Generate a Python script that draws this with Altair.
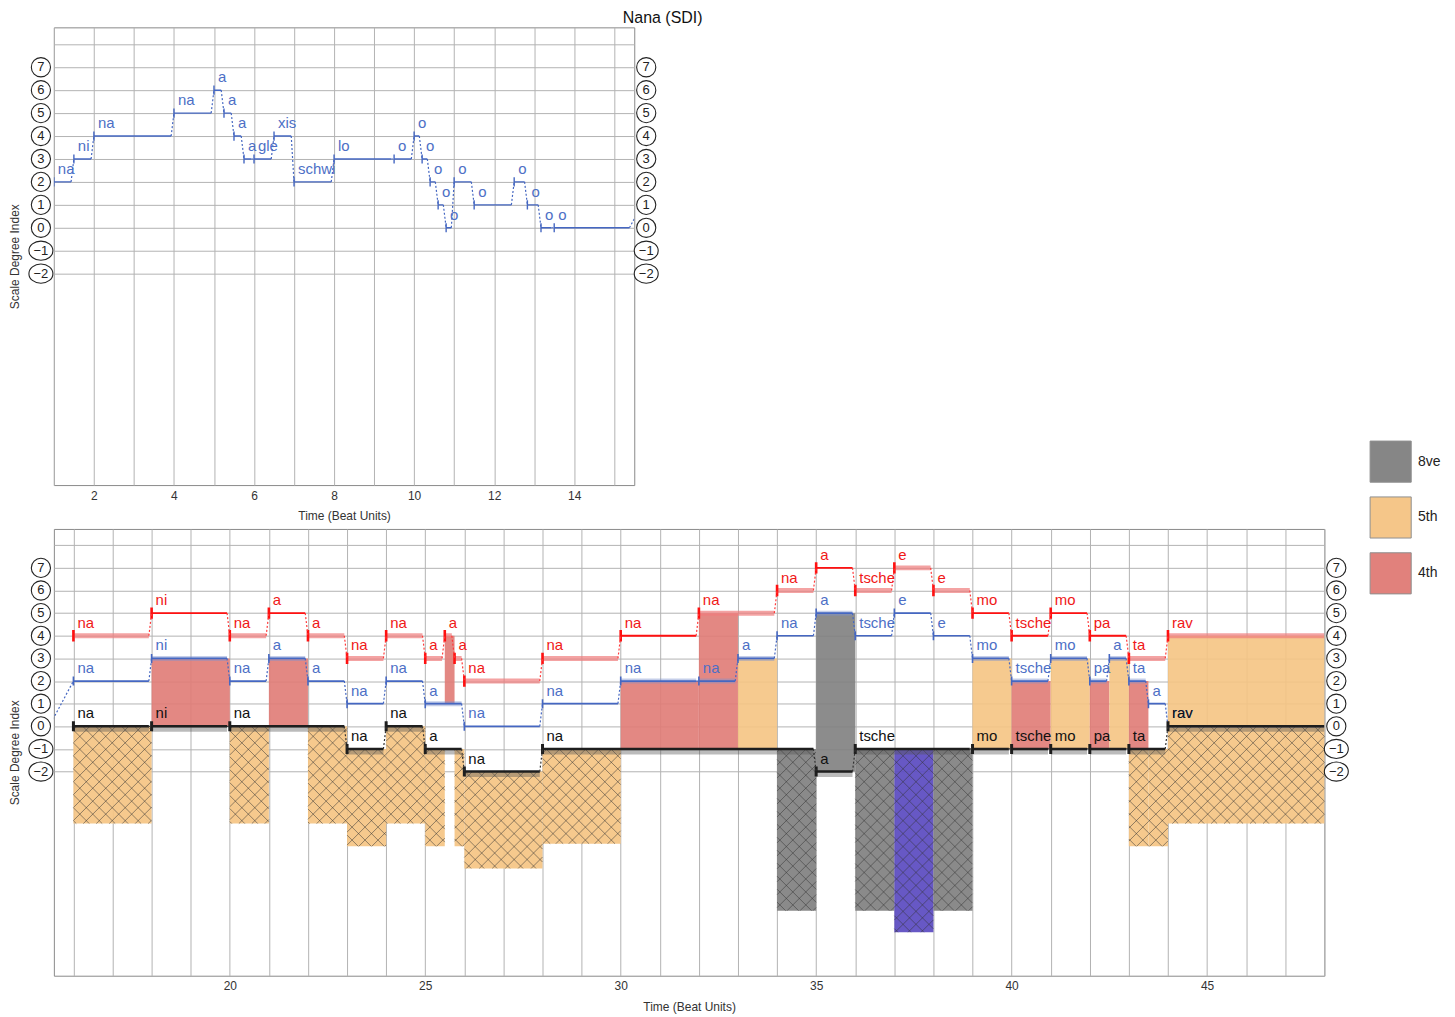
import altair as alt
import pandas as pd
import numpy as np

FONT = "Liberation Sans"

# ---------------- data ----------------
# Melody voice (blue): segment start (beats), scale degree, syllable, shaded edge flag
blue_start = [1, 1.5, 2, 4, 5, 5.25, 5.5, 5.75, 6, 6.5, 7, 8, 9.5, 10, 10.2, 10.4, 10.6, 10.8,
              11, 11.5, 12.5, 12.83, 13.17, 13.5,
              16, 18, 20, 21, 22, 23, 24, 25, 26, 28, 30, 32, 33, 34, 35, 36, 37, 38, 39, 40,
              41, 42, 42.5, 43, 43.5, 44]
blue_value = [2, 3, 4, 5, 6, 5, 4, 3, 3, 4, 2, 3, 3, 4, 3, 2, 1, 0, 2, 1, 2, 1, 0, 0,
              2, 3, 2, 3, 2, 1, 2, 1, 0, 1, 2, 2, 3, 4, 5, 4, 5, 4, 3, 2, 3, 2, 3, 2, 1, 0]
blue_text = ["na", "ni", "na", "na", "a", "a", "a", "a", "gle", "xis", "schwi", "lo", "o", "o",
             "o", "o", "o", "o", "o", "o", "o", "o", "o", "o",
             "na", "ni", "na", "a", "a", "na", "na", "a", "na", "na", "na", "na", "a", "na", "a",
             "tsche", "e", "e", "mo", "tsche", "mo", "pa", "a", "ta", "a", "rav"]
blue_soft = [0] * 24 + [0, 1, 0, 1, 0, 0, 0, 1, 0, 0, 1, 1, 1, 0, 1, 0, 0, 0, 1, 1, 1, 1, 1, 1, 0, 0]
blue_rest_end = {13.5: 15.38}

# Upper voice (red)
red_start = [16, 18, 20, 21, 22, 23, 24, 25, 25.5, 25.75, 26, 28, 30, 32, 34, 35, 36, 37, 38,
             39, 40, 41, 42, 43, 44]
red_value = [4, 5, 4, 5, 4, 3, 4, 3, 4, 3, 2, 3, 4, 5, 6, 7, 6, 7, 6, 5, 4, 5, 4, 3, 4]
red_text = ["na", "ni", "na", "a", "a", "na", "na", "a", "a", "a", "na", "na", "na", "na", "na",
            "a", "tsche", "e", "e", "mo", "tsche", "mo", "pa", "ta", "rav"]
red_soft = [1, 0, 1, 0, 1, 1, 1, 1, 1, 1, 1, 1, 0, 1, 1, 0, 1, 1, 1, 0, 0, 0, 0, 1, 1]

# Lower voice (black)
black_start = [16, 18, 20, 23, 24, 25, 26, 28, 35, 36, 39, 40, 41, 42, 43, 44]
black_value = [0, 0, 0, -1, 0, -1, -2, -1, -2, -1, -1, -1, -1, -1, -1, 0]
black_text = ["na", "ni", "na", "na", "na", "a", "na", "na", "a", "tsche", "mo", "tsche", "mo",
              "pa", "ta", "rav"]

# Solid interval bars (adjacent voices)
bar_start = [18, 21, 25.5, 30, 32, 32, 33, 35, 39, 40, 41, 42, 42.5, 43, 44]
bar_end = [20, 22, 25.75, 32, 33, 33, 34, 36, 40, 41, 42, 42.5, 43, 43.5, 48]
bar_low = [0, 0, 1, -1, -1, 2, -1, -2, -1, -1, -1, -1, -1, -1, 0]
bar_high = [3, 3, 4, 2, 2, 5, 3, 5, 3, 2, 3, 2, 3, 2, 4]
bar_interval = ["4th", "4th", "4th", "4th", "4th", "4th", "5th", "8ve", "5th", "4th", "5th",
                "4th", "5th", "4th", "5th"]

# Hatched interval bars (outer voices), hanging below the lower voice
hatch_start = [16, 20, 22, 23, 24, 25, 25.75, 26, 28, 34, 36, 37, 38, 43, 43.5, 44]
hatch_end = [18, 21, 23, 24, 25, 25.5, 26, 28, 30, 35, 37, 38, 39, 43.5, 44, 48]
hatch_top = [0, 0, 0, -1, 0, -1, -1, -2, -1, -1, -1, -1, -1, -1, -1, 0]
hatch_bottom = [-4.3, -4.3, -4.3, -5.3, -4.3, -5.3, -5.3, -6.28, -5.19, -8.15, -8.15, -9.1,
                -8.15, -5.3, -5.3, -4.3]
hatch_interval = ["5th"] * 9 + ["8ve", "8ve", "9th", "8ve", "5th", "5th", "5th"]

interval_names = ["8ve", "5th", "4th", "9th"]
interval_colors = ["#808080", "#f5c483", "#e07b75", "#5a4ac0"]

degree_values = [7, 6, 5, 4, 3, 2, 1, 0, -1, -2]
degree_labels = ["7", "6", "5", "4", "3", "2", "1", "0", "\u22121", "\u22122"]

TOP_X = [1, 15.5]
BOT_X = [15.5, 48]
TOP_Y = [-11.22, 8.74]
BOT_Y = [-11.02, 8.72]
TOP_W, TOP_H = 582, 459
BOT_W, BOT_H = 1274, 448
GAP = 0.07
FINAL_END = 48
HATCH_STEP = 13.0

BLUE = "#4567c2"
BLUE_TXT = "#4d6fc6"
RED = "#ff1010"
RED_TXT = "#f01818"
GRID = "#b3b3b3"


# ---------------- helpers ----------------
def build_voice(starts, values, texts, soft, final_end, rest_end=None):
    rest_end = rest_end or {}
    rows = []
    n = len(starts)
    for i in range(n):
        t0 = starts[i]
        if t0 in rest_end:
            t1 = rest_end[t0]
        elif i < n - 1:
            t1 = starts[i + 1] - GAP
        else:
            t1 = final_end
        rows.append(dict(t0=t0, t1=t1, v=values[i], text=texts[i], soft=soft[i],
                         nt=starts[i + 1] if i < n - 1 else None,
                         nv=values[i + 1] if i < n - 1 else None))
    return pd.DataFrame(rows)


blue_df = build_voice(blue_start, blue_value, blue_text, blue_soft, FINAL_END, blue_rest_end)
red_df = build_voice(red_start, red_value, red_text, red_soft, FINAL_END)
black_df = build_voice(black_start, black_value, black_text, [1] * len(black_start), FINAL_END)

bars_df = pd.DataFrame(dict(t0=bar_start, t1=bar_end, lo=bar_low, hi=bar_high,
                            interval=bar_interval))
hatch_df = pd.DataFrame(dict(t0=hatch_start, t1=hatch_end, lo=hatch_bottom, hi=hatch_top,
                             interval=hatch_interval))


def hatch_lines(df, xdom, ydom, w, h, step):
    sx = w / (xdom[1] - xdom[0])
    sy = h / (ydom[1] - ydom[0])
    out = []
    for _, r in df.iterrows():
        xa, xb = (r.t0 - xdom[0]) * sx, (r.t1 - xdom[0]) * sx
        ya, yb = (ydom[1] - r.hi) * sy, (ydom[1] - r.lo) * sy
        segs = []
        for k in range(int(np.floor((xa + ya) / step)), int(np.ceil((xb + yb) / step)) + 1):
            c = k * step
            xs, xe = max(xa, c - yb), min(xb, c - ya)
            if xe > xs:
                segs.append((xs, c - xs, xe, c - xe))
        for k in range(int(np.floor((xa - yb) / step)), int(np.ceil((xb - ya) / step)) + 1):
            c = k * step
            xs, xe = max(xa, c + ya), min(xb, c + yb)
            if xe > xs:
                segs.append((xs, xs - c, xe, xe - c))
        for x1, y1, x2, y2 in segs:
            out.append(dict(a=x1 / sx + xdom[0], b=ydom[1] - y1 / sy,
                            a2=x2 / sx + xdom[0], b2=ydom[1] - y2 / sy))
    return pd.DataFrame(out)


def make_panel(xdom, ydom, w, h, xvals, label_every, with_harmony):
    xs = alt.Scale(domain=xdom, nice=False, zero=False)
    ys = alt.Scale(domain=ydom, nice=False, zero=False)
    xaxis = alt.Axis(values=xvals, labelExpr=f"datum.value % {label_every} === 0 ? datum.label : ''",
                     grid=True, gridColor=GRID, ticks=False, domain=False, labelPadding=5,
                     titlePadding=10, title="Time (Beat Units)", labelFontSize=12,
                     titleFontSize=12, titleFontWeight="normal", labelColor="#333",
                     titleColor="#333", labelFont=FONT, titleFont=FONT)
    yaxis = alt.Axis(values=list(range(-2, 9)), labels=False, ticks=False, domain=False,
                     grid=True, gridColor=GRID, title="Scale Degree Index", titlePadding=32,
                     titleFontSize=12, titleFontWeight="normal", titleColor="#333",
                     titleFont=FONT)

    def X(f):
        return alt.X(f"{f}:Q", scale=xs, axis=xaxis)

    def Y(f):
        return alt.Y(f"{f}:Q", scale=ys, axis=yaxis)

    lo_t, hi_t = xdom
    layers = []

    color_scale = alt.Scale(domain=interval_names, range=interval_colors)
    legend = alt.Legend(title=None, orient="none", legendX=w + 45, legendY=-89,
                        values=["8ve", "5th", "4th"], symbolType="square", symbolSize=1700,
                        symbolStrokeColor="#8a8a8a", symbolStrokeWidth=1, symbolOpacity=0.95,
                        labelFontSize=14, labelFont=FONT, labelColor="#222", labelOffset=6,
                        rowPadding=9)

    if with_harmony:
        layers.append(alt.Chart(hatch_df).mark_rect(opacity=0.92).encode(
            x=X("t0"), x2="t1", y=Y("hi"), y2="lo",
            color=alt.Color("interval:N", scale=color_scale, legend=legend)))
        hl = hatch_lines(hatch_df, xdom, ydom, w, h, HATCH_STEP)
        layers.append(alt.Chart(hl).mark_rule(stroke="#333333", strokeWidth=0.7, opacity=0.75).encode(
            x=X("a"), y=Y("b"), x2="a2", y2="b2"))
        layers.append(alt.Chart(bars_df).mark_rect(opacity=0.9).encode(
            x=X("t0"), x2="t1", y=Y("lo"), y2="hi",
            color=alt.Color("interval:N", scale=color_scale, legend=legend)))

    def voice(df, line_color, txt_color, crisp_w, soft_color, soft_w, soft_op, tick_w, tick_h,
              dash_color, shadow=False, thick=False):
        L = []
        if shadow:
            L.append(alt.Chart(df).mark_rule(stroke="#555", strokeWidth=6, opacity=0.4,
                                             yOffset=2.5, clip=True).encode(
                x=X("t0"), x2="t1", y=Y("v")))
        soft = df[df.soft == 1]
        if len(soft) and soft_color:
            L.append(alt.Chart(soft).mark_rule(stroke=soft_color, strokeWidth=soft_w,
                                               opacity=soft_op, clip=True).encode(
                x=X("t0"), x2="t1", y=Y("v")))
        crisp = df if soft_color is None or not thick else df[df.soft == 0]
        L.append(alt.Chart(crisp).mark_rule(stroke=line_color, strokeWidth=crisp_w,
                                            clip=True).encode(
            x=X("t0"), x2="t1", y=Y("v")))
        ticks = df.assign(lo=df.v - tick_h, hi=df.v + tick_h)
        L.append(alt.Chart(ticks).mark_rule(stroke=line_color, strokeWidth=tick_w,
                                            clip=True).encode(
            x=X("t0"), y=Y("lo"), y2="hi"))
        conn = df.dropna(subset=["nt"])
        L.append(alt.Chart(conn).mark_rule(stroke=dash_color, strokeWidth=1.2,
                                           strokeDash=[2, 2], clip=True).encode(
            x=X("t1"), y=Y("v"), x2="nt", y2="nv"))
        lab = df[(df.t0 >= lo_t) & (df.t0 < hi_t)]
        L.append(alt.Chart(lab).mark_text(align="left", baseline="alphabetic", dx=4, dy=-8,
                                          fontSize=15, font=FONT, color=txt_color).encode(
            x=X("t0"), y=Y("v"), text="text:N"))
        return L

    if with_harmony:
        layers += voice(blue_df, BLUE, BLUE_TXT, 1.7, "#7f93cf", 5, 0.45, 1.6, 0.2, BLUE)
        layers += voice(black_df, "#1e1e1e", "#111111", 2.6, None, 0, 0, 3, 0.22, "#333",
                        shadow=True)
        layers += voice(red_df, RED, RED_TXT, 1.9, "#ef7c7c", 5, 0.7, 2.6, 0.25, "#ff3a3a",
                        thick=True)
    else:
        layers += voice(blue_df, BLUE, BLUE_TXT, 1.4, None, 0, 0, 1.4, 0.2, BLUE)

    circ = pd.DataFrame(dict(val=degree_values, lab=degree_labels,
                             kind=["pos" if v >= 0 else "neg" for v in degree_values]))
    shape = alt.Shape("kind:N", scale=alt.Scale(
        domain=["pos", "neg"],
        range=["circle", "M-1.25,0A1.25,1,0,1,0,1.25,0A1.25,1,0,1,0,-1.25,0Z"]), legend=None)
    for xpos in (-13, w + 12):
        layers.append(alt.Chart(circ).mark_point(filled=True, fill="white", stroke="#222",
                                                 strokeWidth=1.1, size=370, opacity=1).encode(
            x=alt.value(xpos), y=Y("val"), shape=shape))
        layers.append(alt.Chart(circ).mark_text(fontSize=13, font=FONT, color="#222",
                                                baseline="middle", align="center").encode(
            x=alt.value(xpos), y=Y("val"), text="lab:N"))

    return alt.layer(*layers).properties(width=w, height=h)


top = make_panel(TOP_X, TOP_Y, TOP_W, TOP_H, list(range(1, 16)), 2, False)
bottom = make_panel(BOT_X, BOT_Y, BOT_W, BOT_H, list(range(16, 49)), 5, True)

chart = alt.vconcat(top, bottom, spacing=44, bounds="flush").resolve_legend(
    color="independent").properties(
    title=alt.TitleParams("Nana (SDI)", fontSize=16, font=FONT, fontWeight="normal",
                          anchor="start", dx=616, offset=1, color="#111")
).configure(padding={"left": 0, "top": 0, "right": 5, "bottom": 0}, font=FONT).configure_view(
    stroke="#8a8a8a", strokeWidth=1)

chart.save("out.html", embed_options={"renderer": "svg", "actions": False})
